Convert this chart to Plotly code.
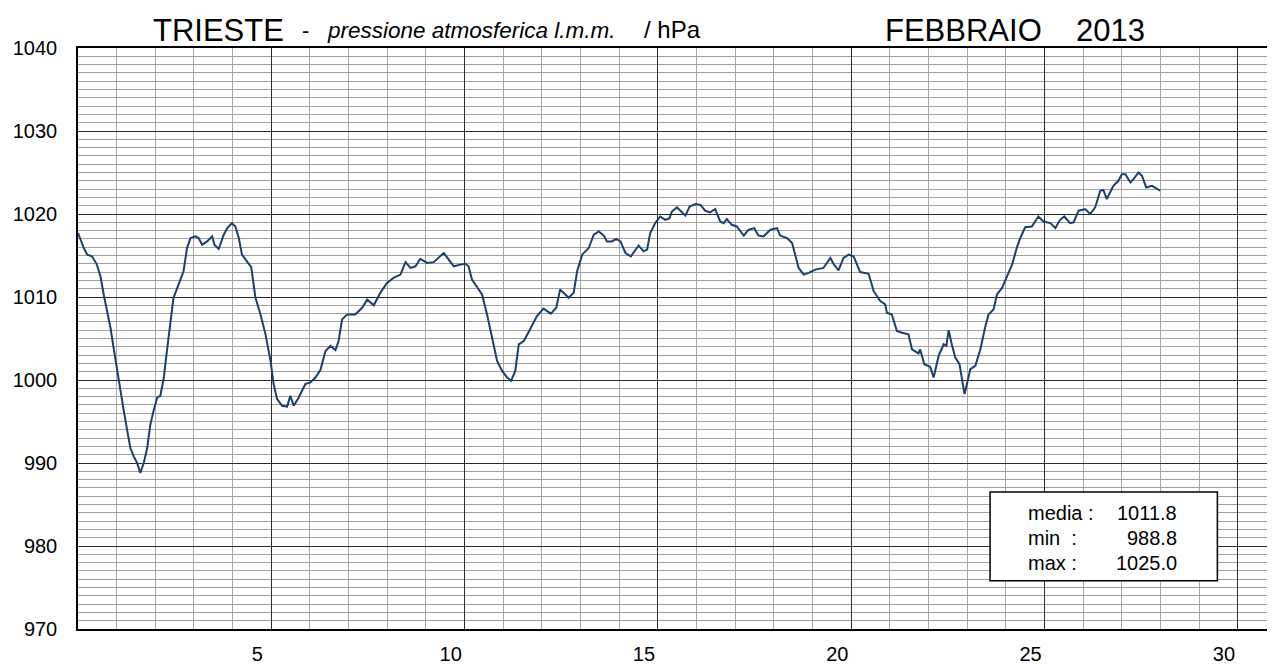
import plotly.graph_objects as go

# ---- data ----
# x: days elapsed since 1 Feb 2013 00:00, y: sea-level pressure (hPa)
day = [0.00, 0.08, 0.15, 0.24, 0.36, 0.48, 0.58, 0.665, 0.75, 0.84, 0.92, 1.01, 1.10, 1.18, 1.27, 1.355,
       1.44, 1.53, 1.61, 1.70, 1.79, 1.87, 1.96, 2.05, 2.13, 2.22, 2.30, 2.39, 2.47, 2.60, 2.73, 2.82,
       2.91, 3.04, 3.12, 3.21, 3.34, 3.47, 3.53, 3.64, 3.77, 3.86, 3.98, 4.07, 4.16, 4.24, 4.37, 4.48,
       4.59, 4.72, 4.85, 4.98, 5.06, 5.15, 5.28, 5.41, 5.49, 5.58, 5.71, 5.88, 6.01, 6.14, 6.27, 6.40,
       6.53, 6.66, 6.74, 6.83, 6.96, 7.17, 7.35, 7.48, 7.65, 7.82, 7.99, 8.16, 8.34, 8.47, 8.60, 8.73,
       8.85, 9.03, 9.20, 9.33, 9.46, 9.59, 9.72, 9.89, 10.02, 10.10, 10.19, 10.32, 10.45, 10.58, 10.71,
       10.84, 10.97, 11.10, 11.20, 11.31, 11.40, 11.53, 11.68, 11.87, 12.04, 12.23, 12.37, 12.47, 12.69,
       12.82, 12.91, 13.04, 13.21, 13.34, 13.47, 13.60, 13.68, 13.81, 13.92, 14.03, 14.16, 14.30, 14.50,
       14.63, 14.72, 14.80, 14.93, 15.06, 15.19, 15.30, 15.36, 15.49, 15.58, 15.71, 15.82, 15.97, 16.10,
       16.22, 16.35, 16.48, 16.61, 16.70, 16.78, 16.91, 17.04, 17.22, 17.34, 17.49, 17.60, 17.73, 17.91,
       18.08, 18.16, 18.34, 18.47, 18.55, 18.64, 18.77, 18.90, 19.07, 19.28, 19.46, 19.54, 19.67, 19.80,
       19.93, 20.06, 20.23, 20.45, 20.58, 20.75, 20.88, 20.92, 21.05, 21.18, 21.31, 21.48, 21.57, 21.74,
       21.78, 21.89, 22.04, 22.13, 22.26, 22.39, 22.46, 22.52, 22.60, 22.69, 22.80, 22.86, 22.93, 22.99,
       23.08, 23.21, 23.34, 23.46, 23.55, 23.68, 23.77, 23.90, 24.03, 24.16, 24.28, 24.37, 24.50, 24.67,
       24.84, 24.97, 25.15, 25.28, 25.40, 25.51, 25.66, 25.75, 25.88, 26.05, 26.18, 26.31, 26.44, 26.52,
       26.61, 26.70, 26.78, 26.91, 27.00, 27.09, 27.22, 27.30, 27.43, 27.52, 27.63, 27.78, 27.99]
pressure = [1017.7, 1016.6, 1015.9, 1015.1, 1014.9, 1014.0, 1012.5, 1010.3, 1008.3, 1006.3, 1003.9, 1001.1,
            998.7, 996.4, 994.0, 991.8, 990.8, 990.0, 988.8, 990.0, 991.8, 994.6, 996.4, 997.9, 998.1,
            1000.3, 1003.5, 1006.7, 1009.9, 1011.5, 1013.1, 1015.9, 1017.1, 1017.3, 1017.1, 1016.3, 1016.7,
            1017.3, 1016.3, 1015.8, 1017.5, 1018.3, 1018.9, 1018.5, 1017.1, 1015.1, 1014.3, 1013.6, 1009.9,
            1007.9, 1005.5, 1002.3, 999.5, 997.7, 996.9, 996.8, 998.1, 996.9, 997.9, 999.5, 999.7, 1000.3,
            1001.2, 1003.5, 1004.1, 1003.6, 1004.7, 1007.3, 1007.9, 1007.9, 1008.7, 1009.7, 1009.0, 1010.5,
            1011.7, 1012.3, 1012.7, 1014.2, 1013.5, 1013.7, 1014.6, 1014.1, 1014.2, 1014.7, 1015.3, 1014.5,
            1013.7, 1013.9, 1014.0, 1013.7, 1012.1, 1011.2, 1010.3, 1007.9, 1005.1, 1002.3, 1001.1, 1000.3,
            999.9, 1001.1, 1004.3, 1004.7, 1006.0, 1007.7, 1008.6, 1008.0, 1008.7, 1010.9, 1009.9, 1010.5,
            1013.1, 1015.1, 1015.9, 1017.5, 1017.9, 1017.4, 1016.7, 1016.7, 1017.0, 1016.7, 1015.3, 1014.9,
            1016.2, 1015.5, 1015.7, 1017.7, 1018.9, 1019.7, 1019.3, 1019.5, 1020.3, 1020.8, 1020.4, 1019.8,
            1020.9, 1021.2, 1021.1, 1020.4, 1020.2, 1020.6, 1019.1, 1018.9, 1019.4, 1018.7, 1018.5, 1017.4,
            1018.1, 1018.3, 1017.4, 1017.3, 1018.1, 1018.3, 1017.4, 1017.1, 1016.5, 1015.1, 1013.5, 1012.7,
            1012.9, 1013.3, 1013.5, 1014.7, 1014.0, 1013.2, 1014.7, 1015.1, 1014.9, 1013.0, 1012.8, 1010.7,
            1009.5, 1009.1, 1008.1, 1007.9, 1005.9, 1005.7, 1005.5, 1003.7, 1003.2, 1003.7, 1001.9, 1001.6,
            1000.3, 1002.9, 1004.3, 1004.1, 1006.0, 1004.3, 1002.7, 1001.9, 1000.3, 998.3, 999.5, 1001.3,
            1001.7, 1003.7, 1006.3, 1007.9, 1008.5, 1010.3, 1011.1, 1012.5, 1013.9, 1015.9, 1017.1, 1018.4,
            1018.5, 1019.7, 1019.1, 1018.9, 1018.3, 1019.3, 1019.7, 1018.9, 1019.0, 1020.4, 1020.6, 1020.0,
            1020.8, 1022.8, 1022.9, 1021.8, 1022.6, 1023.4, 1024.0, 1024.8, 1024.8, 1023.8, 1024.2, 1025.0,
            1024.6, 1023.2, 1023.4, 1022.8]

x_tick_values = [5, 10, 15, 20, 25, 30]
x_tick_labels = ["5", "10", "15", "20", "25", "30"]
y_tick_values = [970, 980, 990, 1000, 1010, 1020, 1030, 1040]
y_tick_labels = ["970", "980", "990", "1000", "1010", "1020", "1030", "1040"]

stat_names = ["media :", "min  :", "max :"]
stat_values = ["1011.8", "988.8", "1025.0"]

# ---- figure geometry (page body has an 8px default margin) ----
PAGE_OFF = 8
W, H = 1275 - PAGE_OFF, 665 - PAGE_OFF
ML, MR, MT, MB = 78 - PAGE_OFF, 0, 48 - PAGE_OFF, 31
PW = W - ML - MR
XMAX = 30.96


def px_x(px):
    """screen pixel -> paper x"""
    return (px - PAGE_OFF - ML) / PW


fig = go.Figure()
fig.add_trace(go.Scatter(
    x=day, y=pressure, mode="lines",
    line=dict(color="#1b3f6e", width=2),
    hoverinfo="skip",
))

font_main = "Liberation Sans, Arial, sans-serif"

fig.update_layout(
    width=W, height=H,
    margin=dict(l=ML, r=MR, t=MT, b=MB, pad=0),
    paper_bgcolor="white", plot_bgcolor="white",
    showlegend=False,
    font=dict(family=font_main, color="black", size=20),
)

fig.update_xaxes(
    range=[0, XMAX],
    tickmode="array", tickvals=x_tick_values, ticktext=x_tick_labels,
    ticks="", ticklabelshift=-14, ticklabelstandoff=6,
    tickfont=dict(size=20, family=font_main, color="black"),
    showgrid=True, gridcolor="#2a2a2a", gridwidth=1,
    minor=dict(dtick=1, tick0=0, showgrid=True, gridcolor="#a8a8a8", gridwidth=1, ticks=""),
    showline=True, linecolor="black", linewidth=2, mirror=True,
    zeroline=False, fixedrange=True,
)
fig.update_yaxes(
    range=[970, 1040],
    tickmode="array", tickvals=y_tick_values, ticktext=y_tick_labels,
    ticks="", ticklabelstandoff=15,
    tickfont=dict(size=20, family=font_main, color="black"),
    showgrid=True, gridcolor="#2a2a2a", gridwidth=1,
    minor=dict(dtick=1, tick0=970, showgrid=True, gridcolor="#a0a0a0", gridwidth=1, ticks=""),
    showline=True, linecolor="black", linewidth=1.5, mirror=False,
    zeroline=False, fixedrange=True,
)

# ---- title texts ----
title_items = [
    ("TRIESTE", 151, 31, 17.5),
    ("-", 300, 22, 18),
    ("<i>pressione atmosferica l.m.m.</i>", 325, 22.5, 18),
    ("/ hPa", 642, 24, 18.5),
    ("FEBBRAIO", 883, 31, 17.5),
    ("2013", 1074, 31, 17.5),
]
for txt, px, size, yshift in title_items:
    fig.add_annotation(
        text=txt, xref="paper", yref="paper", x=px_x(px), y=1,
        xanchor="left", yanchor="middle", yshift=yshift,
        showarrow=False, font=dict(size=size, family=font_main, color="black"),
    )

# ---- statistics box ----
BOX_X0, BOX_X1 = 23.59, 29.47
BOX_Y0, BOX_Y1 = 975.8, 986.5
fig.add_shape(type="rect", xref="x", yref="y", x0=BOX_X0, x1=BOX_X1, y0=BOX_Y0, y1=BOX_Y1,
              line=dict(color="black", width=1.5), fillcolor="white", layer="above")
row_y = [984.0, 981.0, 978.0]
for name, val, ry in zip(stat_names, stat_values, row_y):
    fig.add_annotation(text=name, xref="x", yref="y", x=24.52, y=ry, xanchor="left", yanchor="middle",
                       showarrow=False, font=dict(size=20, family=font_main, color="black"))
    fig.add_annotation(text=val, xref="x", yref="y", x=28.47, y=ry, xanchor="right", yanchor="middle",
                       showarrow=False, font=dict(size=20, family=font_main, color="black"))

fig.write_html("out.html")
